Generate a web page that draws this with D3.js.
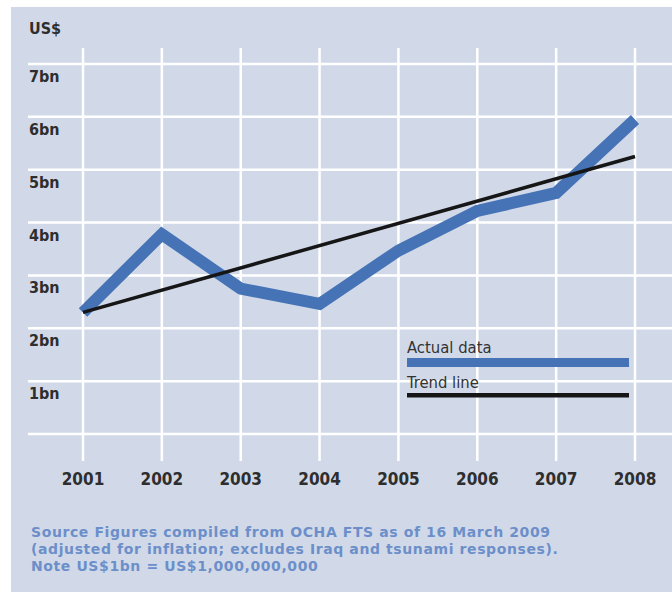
<!DOCTYPE html>
<html>
<head>
<meta charset="utf-8">
<script src="https://cdn.jsdelivr.net/npm/d3@7"></script>
<style>
  body { margin: 0; background: #fff; }
  svg { display: block; }
  .lab { font-family: "DejaVu Sans Condensed", "DejaVu Sans", sans-serif; font-weight: bold; fill: #2e2e2e; }
</style>
</head>
<body>
<svg id="chart"></svg>
<script>
const years = [2001, 2002, 2003, 2004, 2005, 2006, 2007, 2008];
const actual = [2.3, 3.78, 2.75, 2.46, 3.47, 4.22, 4.56, 5.95];
const trend = [2.3, 5.25]; // first and last year
const yTicks = [0, 1, 2, 3, 4, 5, 6, 7];
const yLabels = ["", "1bn", "2bn", "3bn", "4bn", "5bn", "6bn", "7bn"];
const notes = [
  "Source Figures compiled from OCHA FTS as of 16 March 2009",
  "(adjusted for inflation; excludes Iraq and tsunami responses).",
  "Note US$1bn = US$1,000,000,000"
];

document.addEventListener("DOMContentLoaded", function () {
  const width = 672;
  const height = 592;

  const svg = d3.select("#chart").attr("width", width).attr("height", height);

  // panel background
  svg.append("rect")
    .attr("x", 11).attr("y", 7)
    .attr("width", width - 11).attr("height", height - 7)
    .attr("fill", "#d1d9e8");

  const x = d3.scaleLinear().domain([2001, 2008]).range([83, 635]);
  const y = d3.scaleLinear().domain([0, 7]).range([434, 64]);

  // grid
  svg.selectAll(".hgrid")
    .data(yTicks)
    .enter()
    .append("line")
    .attr("x1", 28).attr("x2", width)
    .attr("y1", (d) => y(d)).attr("y2", (d) => y(d))
    .attr("stroke", "#fff").attr("stroke-width", 2.5);

  svg.selectAll(".vgrid")
    .data(years)
    .enter()
    .append("line")
    .attr("x1", (d) => x(d)).attr("x2", (d) => x(d))
    .attr("y1", 48).attr("y2", 461)
    .attr("stroke", "#fff").attr("stroke-width", 2.5);

  // y labels (sit just under each gridline)
  svg.selectAll(".ylab")
    .data(yTicks.filter((d) => d > 0))
    .enter()
    .append("text")
    .attr("class", "lab")
    .attr("x", 29)
    .attr("y", (d) => y(d) + 18)
    .style("font-size", "16px")
    .text((d) => yLabels[d]);

  svg.append("text")
    .attr("class", "lab")
    .attr("x", 29).attr("y", 34)
    .style("font-size", "16px")
    .text("US$");

  // x labels
  svg.selectAll(".xlab")
    .data(years)
    .enter()
    .append("text")
    .attr("class", "lab")
    .attr("x", (d) => x(d))
    .attr("y", 485)
    .attr("text-anchor", "middle")
    .style("font-size", "17px")
    .text((d) => d);

  // actual data
  const line = d3.line().x((d, i) => x(years[i])).y((d) => y(d));
  svg.append("path")
    .datum(actual)
    .attr("d", line)
    .attr("fill", "none")
    .attr("stroke", "#4673b5")
    .attr("stroke-width", 12)
    .attr("stroke-linejoin", "miter");

  // trend line
  svg.append("line")
    .attr("x1", x(years[0])).attr("y1", y(trend[0]))
    .attr("x2", x(years[years.length - 1])).attr("y2", y(trend[1]))
    .attr("stroke", "#161616")
    .attr("stroke-width", 3.5);

  // legend
  const lg = svg.append("g").attr("transform", "translate(407,0)");
  lg.append("text")
    .attr("x", 0).attr("y", 353)
    .style("font-family", '"DejaVu Sans Condensed", sans-serif')
    .style("font-size", "16.5px")
    .attr("fill", "#333")
    .text("Actual data");
  lg.append("rect")
    .attr("x", 0).attr("y", 358)
    .attr("width", 222).attr("height", 9)
    .attr("fill", "#4673b5");
  lg.append("text")
    .attr("x", 0).attr("y", 388)
    .style("font-family", '"DejaVu Sans Condensed", sans-serif')
    .style("font-size", "16.5px")
    .attr("fill", "#333")
    .text("Trend line");
  lg.append("rect")
    .attr("x", 0).attr("y", 393)
    .attr("width", 222).attr("height", 4.5)
    .attr("fill", "#161616");

  // notes
  svg.selectAll(".note")
    .data(notes)
    .enter()
    .append("text")
    .attr("x", 31)
    .attr("y", (d, i) => 537 + i * 17)
    .style("font-family", '"DejaVu Sans", sans-serif')
    .style("font-weight", "bold")
    .style("font-size", "14px")
    .style("letter-spacing", "0.6px")
    .attr("fill", "#6c8fca")
    .text((d) => d);
});
</script>
</body>
</html>
